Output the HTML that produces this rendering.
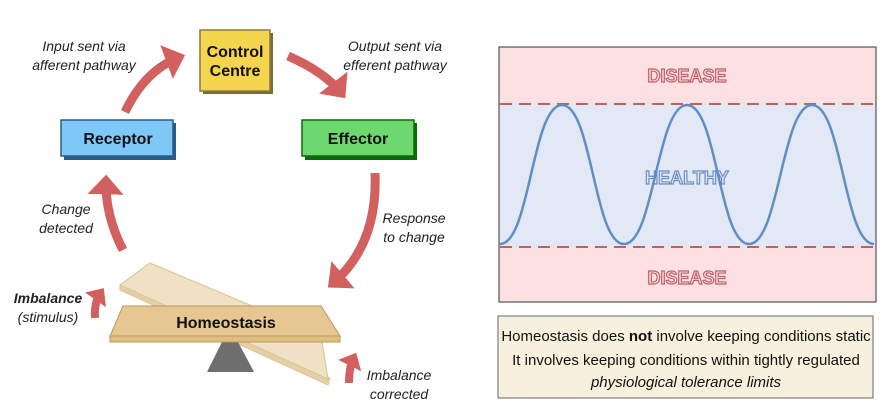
<!DOCTYPE html>
<html><head><meta charset="utf-8"><style>
body{margin:0;background:#fff;}
svg{display:block;font-family:"Liberation Sans",sans-serif;}
.it{font-style:italic;font-size:14px;fill:#222;font-family:"Liberation Sans",sans-serif;}
</style></head><body>
<svg width="885" height="419" viewBox="0 0 885 419">
<defs>
<marker id="ah" markerWidth="4" markerHeight="4" refX="1.6" refY="2" orient="auto" markerUnits="strokeWidth">
<path d="M0,0 L2.2,2 L0,4 Z" fill="#d2605f"/>
</marker>
<marker id="ah2" markerWidth="4" markerHeight="4" refX="1.4" refY="2" orient="auto" markerUnits="strokeWidth">
<path d="M0.2,0.4 L2,2 L0.2,3.6 Z" fill="#d2605f"/>
</marker>
</defs>
<g fill="none" stroke="#d2605f" stroke-width="9">
<path d="M125,112 Q145,70 180,57" marker-end="url(#ah)"/>
<path d="M288,56 Q325,72 342,94" marker-end="url(#ah)"/>
<path d="M375,173 Q378,245 332,284" marker-end="url(#ah)"/>
<path d="M123,250 Q105,215 106,180" marker-end="url(#ah)"/>
<path d="M95,318 Q94,302 101,292" marker-end="url(#ah2)" stroke-width="8"/>
<path d="M349,383 Q349,367 354,357" marker-end="url(#ah2)" stroke-width="8"/>
</g>
<rect x="203" y="33" width="70" height="61" fill="#7a6a3a"/>
<rect x="200" y="30" width="70" height="61" fill="#f5d44e" stroke="#8a7a45" stroke-width="1.5"/>
<text x="235" y="57" text-anchor="middle" font-size="16" font-weight="bold" fill="#111">Control</text>
<text x="235" y="76" text-anchor="middle" font-size="16" font-weight="bold" fill="#111">Centre</text>
<rect x="64" y="123" width="112" height="37" fill="#2a5a8a"/>
<rect x="61" y="120" width="112" height="36" fill="#7ec8f8" stroke="#2a5a8a" stroke-width="1.5"/>
<text x="118" y="144" text-anchor="middle" font-size="16" font-weight="bold" fill="#111">Receptor</text>
<rect x="305" y="123" width="112" height="37" fill="#0a6a0a"/>
<rect x="302" y="120" width="112" height="36" fill="#6dd86d" stroke="#0a6a0a" stroke-width="1.5"/>
<text x="358" y="144" text-anchor="middle" font-size="16" font-weight="bold" fill="#111">Effector</text>
<text class="it" x="84" y="51" text-anchor="middle">Input sent via</text>
<text class="it" x="84" y="70" text-anchor="middle">afferent pathway</text>
<text class="it" x="395" y="51" text-anchor="middle">Output sent via</text>
<text class="it" x="395" y="70" text-anchor="middle">efferent pathway</text>
<text class="it" x="66" y="214" text-anchor="middle">Change</text>
<text class="it" x="66" y="233" text-anchor="middle">detected</text>
<text class="it" x="414" y="223" text-anchor="middle">Response</text>
<text class="it" x="414" y="242" text-anchor="middle">to change</text>
<text class="it" x="48" y="303" text-anchor="middle" font-weight="bold">Imbalance</text>
<text class="it" x="48" y="322" text-anchor="middle">(stimulus)</text>
<text class="it" x="399" y="380" text-anchor="middle">Imbalance</text>
<text class="it" x="399" y="399" text-anchor="middle">corrected</text>
<polygon points="120,285 120,290 328,385 330,378" fill="#e6cfa3" stroke="#d9c397" stroke-width="1"/>
<polygon points="150,263 321,335 328,379 120,285" fill="#f0e1c4" stroke="#d9c397" stroke-width="1"/>
<polygon points="207,372 222,342 238,342 254,372" fill="#6e6e6e"/>
<polygon points="123,306 321,306 340,336 110,336" fill="#e6c791" stroke="#b79a5e" stroke-width="1"/>
<rect x="110" y="336" width="230" height="6" fill="#e0bd80" stroke="#b79a5e" stroke-width="1"/>
<text x="226" y="328" text-anchor="middle" font-size="16" font-weight="bold" fill="#111">Homeostasis</text>
<rect x="499" y="47" width="377" height="255" fill="#fde0e2" stroke="#333" stroke-width="1"/>
<rect x="500" y="104" width="375" height="143" fill="#e3e8f7"/>
<line x1="500" y1="104" x2="875" y2="104" stroke="#c0605f" stroke-width="2" stroke-dasharray="12,7"/>
<line x1="500" y1="247" x2="875" y2="247" stroke="#c0605f" stroke-width="2" stroke-dasharray="12,7"/>
<g font-size="18" font-weight="bold" text-anchor="middle" stroke-width="1.2">
<text x="687" y="82" fill="#fde0e2" stroke="#c0606a">DISEASE</text>
<text x="687" y="284" fill="#fde0e2" stroke="#c0606a">DISEASE</text>
<text x="687" y="184" fill="#e3e8f7" stroke="#6b8fc0">HEALTHY</text>
</g>
<path d="M500,244 C530,244 532,105 562,105 C592,105 594,244 624,244 C654,244 657,105 687,105 C717,105 719,244 749,244 C779,244 782,105 812,105 C842,105 844,244 874,244" fill="none" stroke="#5f8ec7" stroke-width="2.5"/>
<rect x="498" y="316" width="375" height="82" fill="#f6f0dd" stroke="#666" stroke-width="1"/>
<g font-size="15" text-anchor="middle" fill="#111" font-family="Liberation Sans,sans-serif">
<text x="686" y="341">Homeostasis does <tspan font-weight="bold">not</tspan> involve keeping conditions static</text>
<text x="686" y="365">It involves keeping conditions within tightly regulated</text>
<text x="686" y="387" font-style="italic">physiological tolerance limits</text>
</g>
</svg>
</body></html>
